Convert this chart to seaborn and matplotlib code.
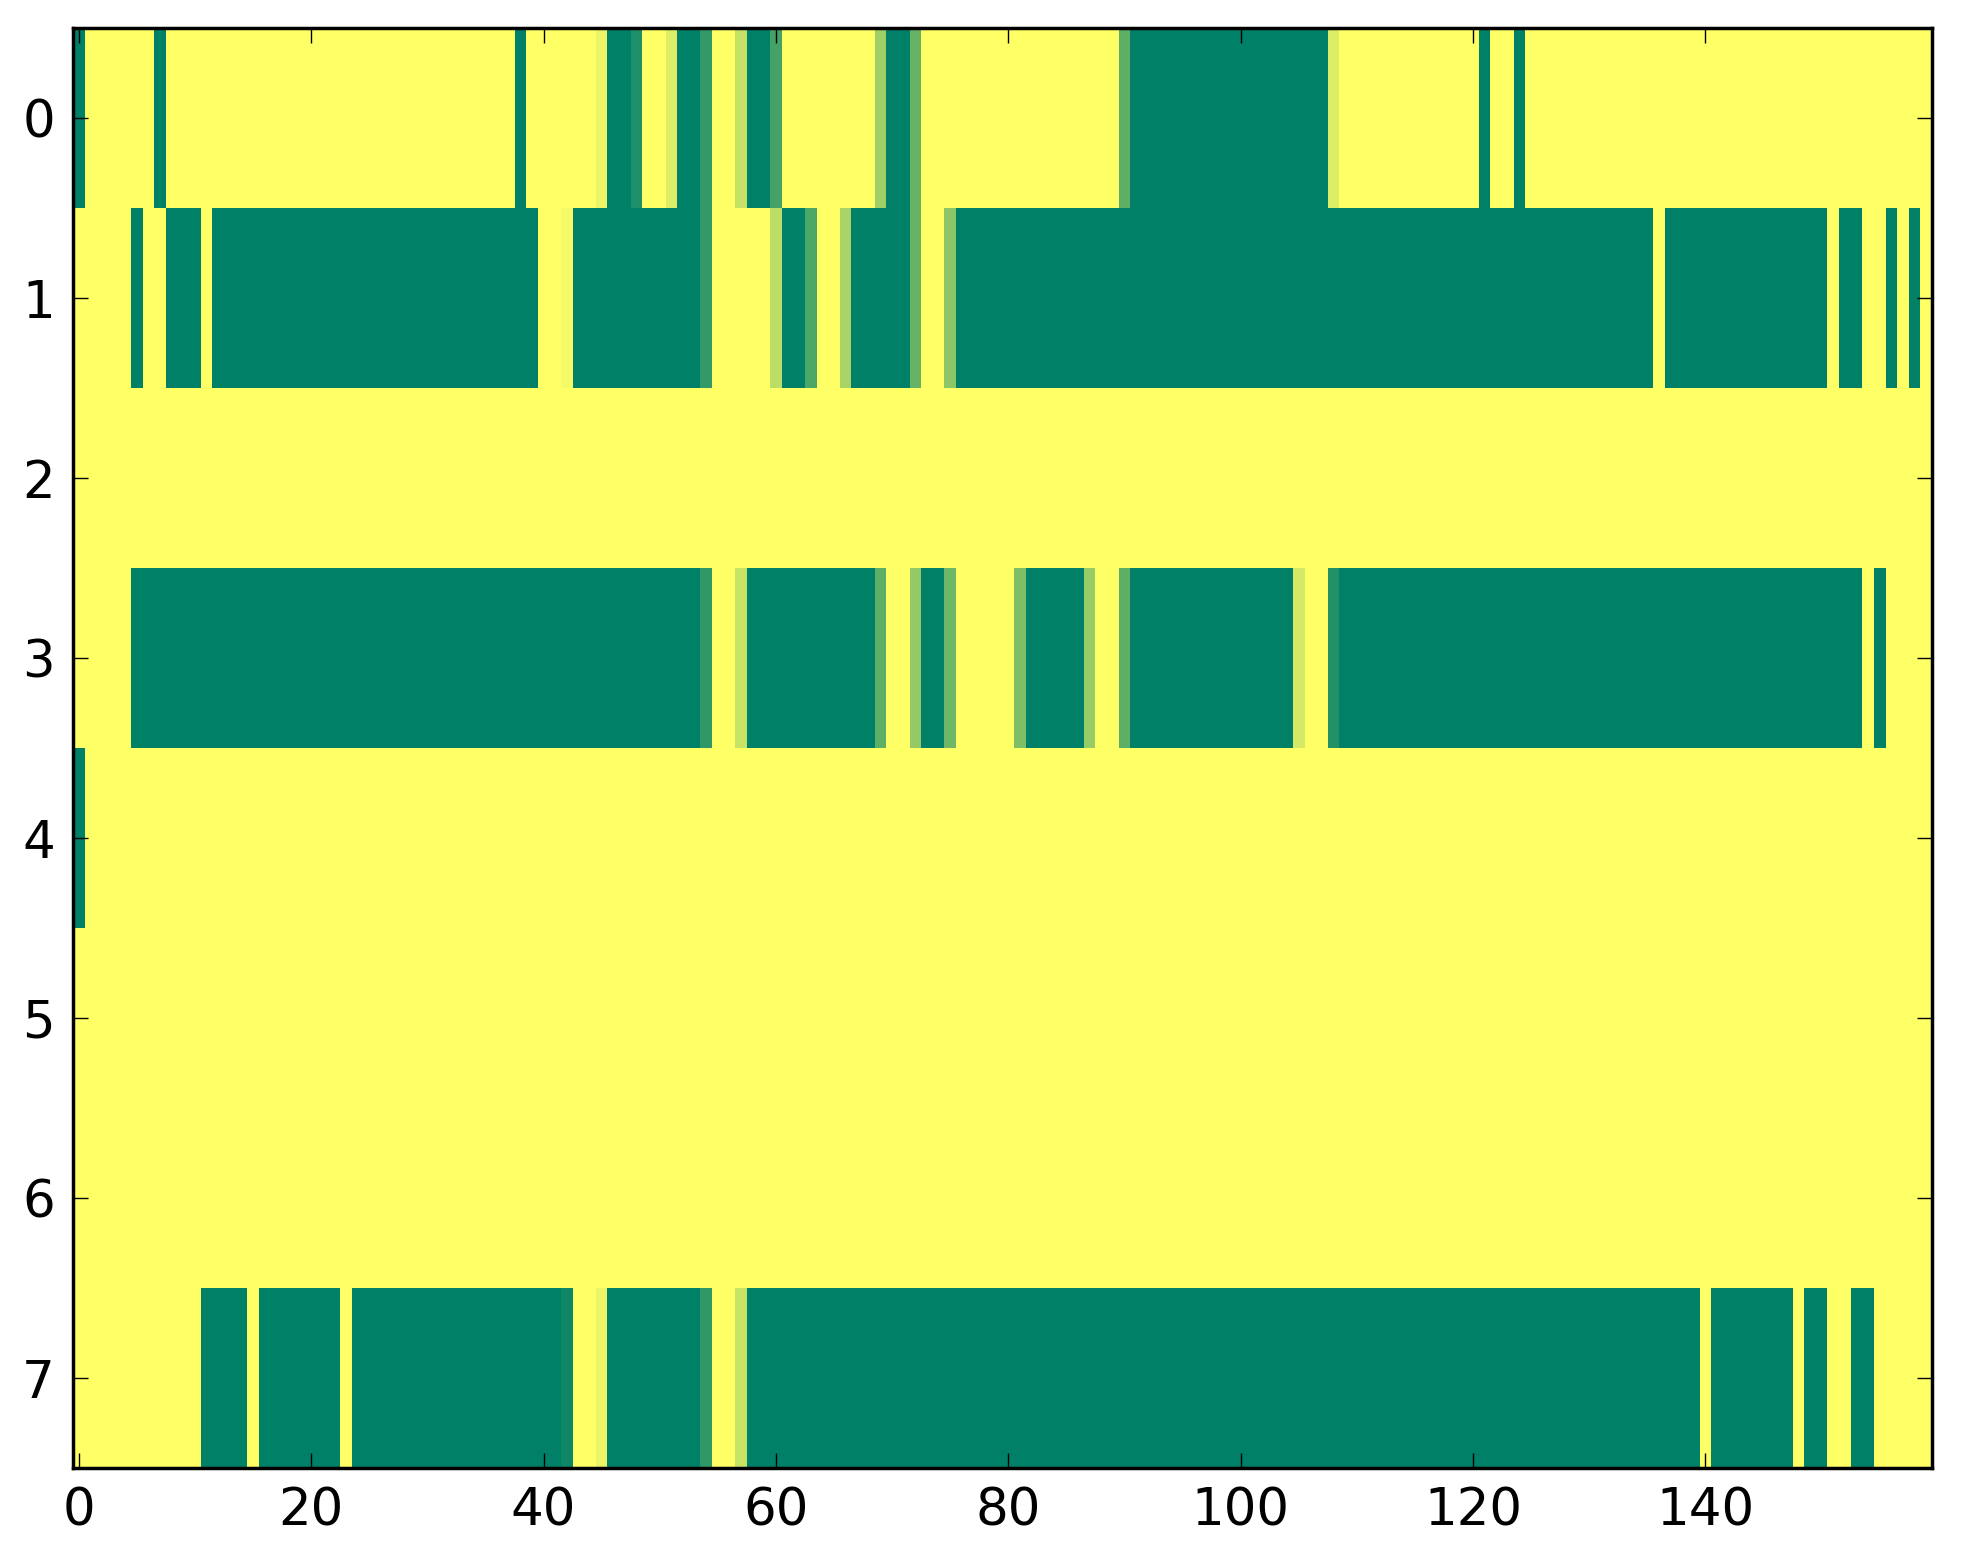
import numpy as np
import pandas as pd
import matplotlib
matplotlib.use("Agg")
import matplotlib.pyplot as plt
import seaborn as sns

# each row is a list of (value, run length), 160 columns per row
row0_runs = [(0, 1), (1, 6), (0, 1), (1, 30), (0, 1), (1, 6), (0.92, 1), (0, 2), (0.12, 1),
             (1, 2), (0.86, 1), (0, 2), (0.2, 1), (1, 2), (0.77, 1), (0, 2), (0.27, 1),
             (1, 8), (0.62, 1), (0, 2), (0.4, 1), (1, 17), (0.37, 1), (0, 17), (0.86, 1),
             (1, 12), (0, 1), (1, 2), (0, 1), (1, 35)]
row1_runs = [(1, 5), (0, 1), (1, 2), (0, 3), (1, 1), (0, 28), (1, 2), (0.96, 1), (0, 11),
             (0.2, 1), (1, 5), (0.74, 1), (0, 2), (0.3, 1), (1, 2), (0.66, 1), (0, 5),
             (0.4, 1), (1, 2), (0.55, 1), (0, 60), (1, 1), (0, 14), (1, 1), (0, 2), (1, 2),
             (0, 1), (1, 1), (0, 1), (1, 1)]
row2_runs = [(1, 160)]
row3_runs = [(1, 5), (0, 49), (0.19, 1), (1, 2), (0.78, 1), (0, 11), (0.37, 1), (1, 2),
             (0.58, 1), (0, 2), (0.43, 1), (1, 5), (0.49, 1), (0, 5), (0.59, 1), (1, 2),
             (0.37, 1), (0, 14), (0.83, 1), (1, 2), (0.14, 1), (0, 45), (1, 1), (0, 1), (1, 4)]
row4_runs = [(0, 1), (1, 159)]
row5_runs = [(1, 160)]
row6_runs = [(1, 160)]
row7_runs = [(1, 11), (0, 4), (1, 1), (0, 7), (1, 1), (0, 18), (0.06, 1), (1, 2), (0.92, 1),
             (0, 8), (0.19, 1), (1, 2), (0.78, 1), (0, 82), (1, 1), (0, 7), (1, 1), (0, 2),
             (1, 2), (0, 2), (1, 5)]

all_runs = [row0_runs, row1_runs, row2_runs, row3_runs,
            row4_runs, row5_runs, row6_runs, row7_runs]

x_ticks = [0, 20, 40, 60, 80, 100, 120, 140]
y_ticks = [0, 1, 2, 3, 4, 5, 6, 7]


def expand(runs):
    vals = [v for v, n in runs]
    counts = [n for v, n in runs]
    return np.repeat(vals, counts)


grid = pd.DataFrame(np.vstack([expand(r) for r in all_runs]))

sns.set_style("white")
plt.rcParams['font.family'] = ['DejaVu Sans']

fig = plt.figure(figsize=(19.63, 15.64), dpi=100)
ax = fig.add_axes([73 / 1963, 1 - 1468 / 1564, (1932 - 73) / 1963, (1468 - 28) / 1564])

sns.heatmap(grid, cmap="summer", vmin=0, vmax=1, cbar=False, ax=ax,
            linewidths=0, xticklabels=False, yticklabels=False)

ax.set_xticks([t + 0.5 for t in x_ticks])
ax.set_xticklabels([str(t) for t in x_ticks], rotation=0)
ax.set_yticks([t + 0.5 for t in y_ticks])
ax.set_yticklabels([str(t) for t in y_ticks], rotation=0)
ax.set_xlim(0, grid.shape[1])
ax.set_ylim(grid.shape[0], 0)
ax.set_axisbelow(False)

for s in ax.spines.values():
    s.set_visible(True)
    s.set_linewidth(2.5)
    s.set_color("black")
    s.set_zorder(5)

ax.tick_params(axis="both", direction="in", bottom=True, left=True, top=True, right=True,
               length=11, width=1.0, color="black", labelcolor="black", labelsize=37)
ax.tick_params(axis="x", pad=13)
ax.tick_params(axis="y", pad=13)

fig.savefig("out.png", dpi=100)
